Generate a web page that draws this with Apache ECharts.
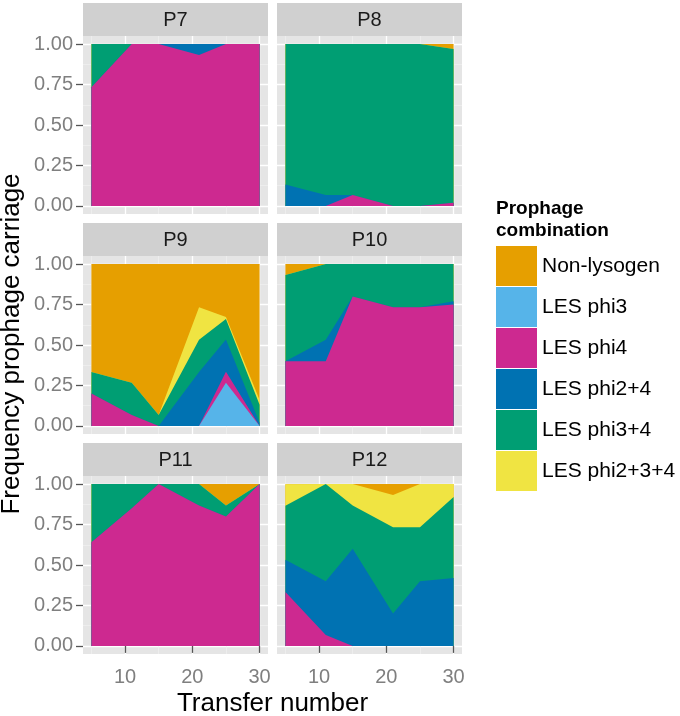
<!DOCTYPE html>
<html>
<head>
<meta charset="utf-8">
<script src="https://cdn.jsdelivr.net/npm/echarts@6/dist/echarts.min.js"></script>
<style>
html,body{margin:0;padding:0;background:#fff;}
#chart{width:680px;height:716px;}
</style>
</head>
<body>
<div id="chart"></div>
<script>
// ---- data ----
const transfers = [5, 11, 15, 21, 25, 30];
const panels = ['P7', 'P8', 'P9', 'P10', 'P11', 'P12'];
const categories = ['Non-lysogen', 'LES phi3', 'LES phi4', 'LES phi2+4', 'LES phi3+4', 'LES phi2+3+4'];
const colors = ['#E69F00', '#56B4E9', '#CD2990', '#0072B2', '#009E73', '#F0E442'];
const xTicks = [10, 20, 30];
const xMinorTicks = [5, 15, 25];
const yTicks = [0, 0.25, 0.5, 0.75, 1];
const yMinorTicks = [0.125, 0.375, 0.625, 0.875];

// rows in category order: Non-lysogen, phi3, phi4, phi2+4, phi3+4, phi2+3+4
const P7 = [
  [0, 0, 0, 0, 0, 0],
  [0, 0, 0, 0, 0, 0],
  [0.733, 1, 1, 0.933, 1, 1],
  [0, 0, 0, 0.067, 0, 0],
  [0.267, 0, 0, 0, 0, 0],
  [0, 0, 0, 0, 0, 0]
];
const P8 = [
  [0, 0, 0, 0, 0, 0.03],
  [0, 0, 0, 0, 0, 0],
  [0, 0, 0.067, 0, 0, 0.02],
  [0.133, 0.067, 0, 0, 0, 0],
  [0.867, 0.933, 0.933, 1, 1, 0.95],
  [0, 0, 0, 0, 0, 0]
];
const P9 = [
  [0.667, 0.733, 0.933, 0.267, 0.327, 0.84],
  [0, 0, 0, 0, 0.267, 0],
  [0.2, 0.067, 0, 0, 0.067, 0],
  [0, 0, 0, 0.333, 0.2, 0.02],
  [0.133, 0.2, 0.067, 0.2, 0.126, 0.11],
  [0, 0, 0, 0.2, 0.013, 0.03]
];
const P10 = [
  [0.067, 0, 0, 0, 0, 0],
  [0, 0, 0, 0, 0, 0],
  [0.4, 0.4, 0.8, 0.733, 0.733, 0.75],
  [0, 0.133, 0, 0, 0, 0.02],
  [0.533, 0.467, 0.2, 0.267, 0.267, 0.23],
  [0, 0, 0, 0, 0, 0]
];
const P11 = [
  [0, 0, 0, 0, 0.133, 0],
  [0, 0, 0, 0, 0, 0],
  [0.64, 0.85, 1, 0.867, 0.8, 1],
  [0, 0, 0, 0, 0, 0],
  [0.36, 0.15, 0, 0.133, 0.067, 0],
  [0, 0, 0, 0, 0, 0]
];
const P12 = [
  [0, 0, 0, 0.067, 0, 0],
  [0, 0, 0, 0, 0, 0],
  [0.333, 0.067, 0, 0, 0, 0],
  [0.2, 0.333, 0.6, 0.2, 0.4, 0.42],
  [0.333, 0.6, 0.267, 0.533, 0.333, 0.5],
  [0.133, 0, 0.133, 0.2, 0.267, 0.08]
];
const panelData = [P7, P8, P9, P10, P11, P12];
// stacking order, bottom to top (indices into categories)
const stackOrder = [1, 2, 3, 4, 5, 0];

// ---- layout ----
const FONT = '"Liberation Sans", Arial, Helvetica, sans-serif';
const colLeft = [83, 277];
const stripTop = [3, 223, 443];
const stripH = 33, plotW = 185, plotH = 178;
const xMin = 3.75, xMax = 31.25, yMin = -0.05, yMax = 1.05;

const grids = [], xAxes = [], yAxes = [], series = [], graphics = [];

panels.forEach((name, i) => {
  const r = Math.floor(i / 2), c = i % 2;
  const top = stripTop[r] + stripH;
  grids.push({left: colLeft[c], top: top, width: plotW, height: plotH,
    show: true, backgroundColor: '#e5e5e5', borderWidth: 0});
  const bottomRow = r === 2, leftCol = c === 0;
  xAxes.push({
    type: 'value', gridIndex: i, min: xMin, max: xMax,
    axisLine: {show: false},
    axisTick: {show: bottomRow, customValues: xTicks, length: 7,
      lineStyle: {color: '#555', width: 1.3}},
    axisLabel: {show: bottomRow, customValues: xTicks, margin: 13,
      color: '#7f7f7f', fontSize: 20, fontFamily: FONT},
    splitLine: {show: true, lineStyle: {color: '#ffffff', width: 1.3}}
  });
  xAxes.push({
    type: 'value', gridIndex: i, min: xMin, max: xMax,
    axisLine: {show: false},
    axisTick: {show: false, customValues: xMinorTicks},
    axisLabel: {show: false, customValues: xMinorTicks},
    splitLine: {show: true, lineStyle: {color: '#f2f2f2', width: 0.6}}
  });
  yAxes.push({
    type: 'value', gridIndex: i, min: yMin, max: yMax,
    axisLine: {show: false},
    axisTick: {show: leftCol, customValues: yTicks, length: 7,
      lineStyle: {color: '#555', width: 1.3}},
    axisLabel: {show: leftCol, customValues: yTicks, margin: 10,
      color: '#7f7f7f', fontSize: 20, fontFamily: FONT,
      formatter: v => Number(v).toFixed(2)},
    splitLine: {show: true, lineStyle: {color: '#ffffff', width: 1.3}}
  });
  yAxes.push({
    type: 'value', gridIndex: i, min: yMin, max: yMax,
    axisLine: {show: false},
    axisTick: {show: false, customValues: yMinorTicks},
    axisLabel: {show: false, customValues: yMinorTicks},
    splitLine: {show: true, lineStyle: {color: '#f2f2f2', width: 0.6}}
  });

  // cumulative tops in stacking order
  const rows = panelData[i];
  const cum = [];
  let running = transfers.map(() => 0);
  stackOrder.forEach(k => {
    running = running.map((v, j) => v + rows[k][j]);
    cum.push({k: k, vals: running.slice()});
  });
  // draw from top layer to bottom layer so lower layers overlay
  for (let s = cum.length - 1; s >= 0; s--) {
    const k = cum[s].k;
    series.push({
      type: 'line', name: categories[k],
      xAxisIndex: 2 * i, yAxisIndex: 2 * i,
      data: transfers.map((x, j) => [x, Math.min(cum[s].vals[j], 1)]),
      symbol: 'none', showSymbol: false, silent: true,
      lineStyle: {width: 0, opacity: 0},
      itemStyle: {color: colors[k]},
      areaStyle: {color: colors[k], opacity: 1, origin: 0}
    });
  }

  // strip
  graphics.push({type: 'rect', shape: {x: colLeft[c], y: stripTop[r], width: plotW, height: stripH},
    style: {fill: '#d0d0d0'}, silent: true});
  graphics.push({type: 'text', x: colLeft[c] + plotW / 2, y: stripTop[r] + stripH / 2 + 1,
    style: {text: name, font: '20px ' + FONT, fill: '#1a1a1a', align: 'center', verticalAlign: 'middle'}, silent: true});
});

graphics.push({type: 'text', x: 272.5, y: 704,
  style: {text: 'Transfer number', font: '26px ' + FONT, fill: '#000', align: 'center', verticalAlign: 'middle'}});
graphics.push({type: 'text', x: 12, y: 344, rotation: Math.PI / 2,
  style: {text: 'Frequency prophage carriage', font: '26px ' + FONT, fill: '#000', align: 'center', verticalAlign: 'middle'}});
graphics.push({type: 'text', x: 496, y: 198,
  style: {text: 'Prophage\ncombination', font: 'bold 19px ' + FONT, lineHeight: 22, fill: '#000', align: 'left', verticalAlign: 'top'}});

const option = {
  animation: false,
  backgroundColor: '#ffffff',
  grid: grids,
  xAxis: xAxes,
  yAxis: yAxes,
  legend: {
    data: categories, orient: 'vertical', left: 496, top: 246,
    icon: 'rect', itemWidth: 41, itemHeight: 40, itemGap: 1,
    selectedMode: false, padding: 0,
    itemStyle: {borderWidth: 0},
    textStyle: {fontSize: 21, color: '#000', fontFamily: FONT}
  },
  series: series,
  graphic: graphics
};
const chart = echarts.init(document.getElementById('chart'), null, {renderer: 'canvas'});
chart.setOption(option);
</script>
</body>
</html>
